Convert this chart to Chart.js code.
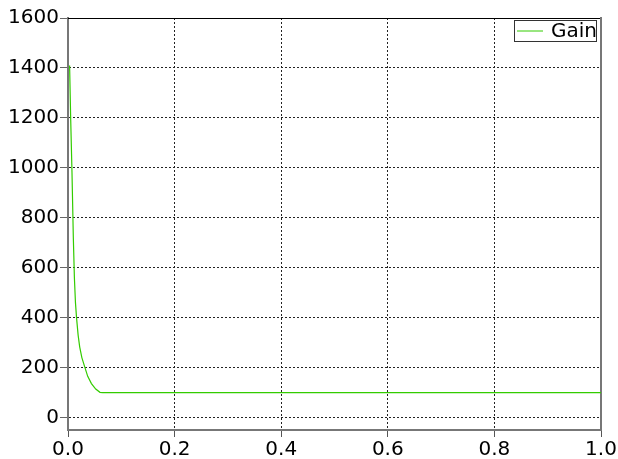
<!DOCTYPE html>
<html>
<head>
<meta charset="utf-8">
<script src="https://cdn.jsdelivr.net/npm/chart.js@4.4.0/dist/chart.umd.min.js"></script>
<style>
  html, body { margin: 0; padding: 0; background: #fff; }
  #contenedor { width: 618px; height: 459px; }
</style>
</head>
<body>
<div id="contenedor"><canvas id="grafica" width="618" height="459"></canvas></div>
<script>
// datos
var tiempo   = [0.003, 0.005, 0.0075, 0.010, 0.012, 0.014, 0.016, 0.019, 0.022, 0.026, 0.0315, 0.037, 0.044, 0.052, 0.060, 0.065, 1.0];
var ganancia = [1410, 1200, 980, 720, 560, 460, 400, 330, 282, 240, 202, 165, 136, 114, 101, 100, 100];
var ticksX = [0, 0.2, 0.4, 0.6, 0.8, 1.0];
var ticksY = [0, 200, 400, 600, 800, 1000, 1200, 1400, 1600];
var serie = "Gain";

var fuente = { family: "DejaVu Sans", size: 20 };

// leyenda con marco, dentro del area de la grafica
var leyenda = {
  id: 'leyenda',
  afterDraw: function(chart){
    var ctx = chart.ctx, area = chart.chartArea;
    var ds = chart.data.datasets[0];
    var der = area.right - 4, arr = area.top + 2;
    var izq = der - 83, alto = 22;
    ctx.save();
    ctx.fillStyle = '#fff';
    ctx.fillRect(izq, arr, der - izq, alto);
    ctx.strokeStyle = '#333';
    ctx.lineWidth = 1;
    ctx.strokeRect(izq + 0.5, arr + 0.5, der - izq - 1, alto - 1);
    ctx.strokeStyle = ds.borderColor;
    ctx.beginPath();
    ctx.moveTo(izq + 3, arr + 11);
    ctx.lineTo(izq + 29, arr + 11);
    ctx.stroke();
    ctx.fillStyle = '#000';
    ctx.font = '20px "DejaVu Sans"';
    ctx.textBaseline = 'middle';
    ctx.fillText(ds.label, izq + 37, arr + 12);
    ctx.restore();
  }
};

var puntos = [];
for (var i = 0; i < tiempo.length; i++) {
  puntos.push({ x: tiempo[i], y: ganancia[i] });
}

var contenedor = document.getElementById('grafica').getContext('2d');
var miGrafica = new Chart(contenedor, {
  type: 'line',
  data: {
    datasets: [{
      label: serie,
      data: puntos,
      borderColor: '#33cc00',
      borderWidth: 1.2,
      pointRadius: 0,
      fill: false,
      tension: 0
    }]
  },
  options: {
    responsive: false,
    animation: false,
    devicePixelRatio: 1,
    layout: { padding: 0 },
    plugins: {
      legend: { display: false },
      tooltip: { enabled: false }
    },
    scales: {
      x: {
        type: 'linear',
        position: 'bottom',
        min: 0,
        max: 1,
        afterBuildTicks: function(s){ s.ticks = ticksX.map(function(v){ return { value: v }; }); },
        afterFit: function(s){ s.height = 29; },
        ticks: {
          font: fuente,
          color: '#000',
          padding: 1,
          maxRotation: 0,
          autoSkip: false,
          callback: function(v){ return Number(v).toFixed(1); }
        },
        grid: { color: '#222', lineWidth: 1, tickLength: 7, tickColor: '#555', tickBorderDash: [] },
        border: { display: true, color: '#777', width: 2, dash: [2, 2] }
      },
      y: {
        type: 'linear',
        position: 'left',
        min: -50,
        max: 1600,
        afterBuildTicks: function(s){ s.ticks = ticksY.map(function(v){ return { value: v }; }); },
        afterFit: function(s){ s.width = 68; },
        ticks: {
          font: fuente,
          color: '#000',
          padding: 1,
          callback: function(v){ return String(v); }
        },
        grid: { color: '#222', lineWidth: 1, tickLength: 8, tickColor: '#666', tickBorderDash: [] },
        border: { display: true, color: '#777', width: 2, dash: [2, 2] }
      },
      arriba: {
        type: 'linear',
        position: 'top',
        afterFit: function(s){ s.height = 18; },
        ticks: { display: false },
        grid: { display: false },
        border: { display: true, color: '#000', width: 1 }
      },
      derecha: {
        type: 'linear',
        position: 'right',
        afterFit: function(s){ s.width = 17; },
        ticks: { display: false },
        grid: { display: false },
        border: { display: true, color: '#777', width: 2 }
      }
    }
  },
  plugins: [leyenda]
});
</script>
</body>
</html>
